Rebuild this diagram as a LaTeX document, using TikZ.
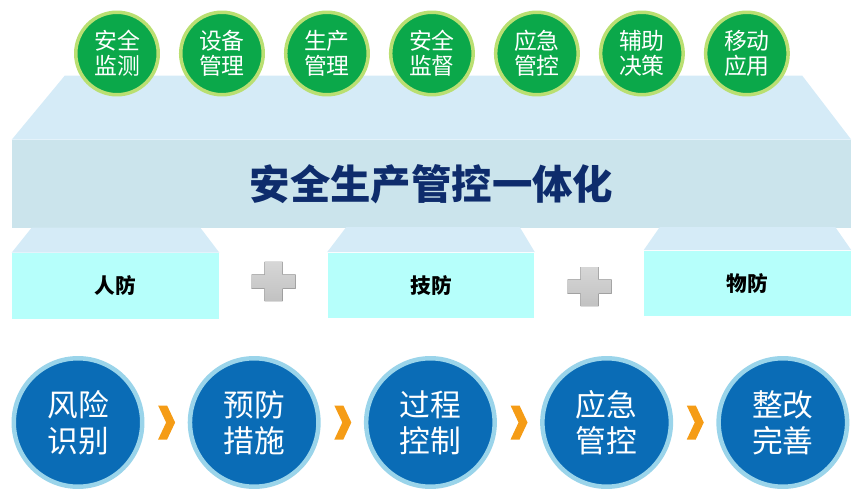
\documentclass[tikz,border=0pt]{standalone}
\usepackage{fontspec}
\setmainfont{Noto Sans CJK SC}
\usepackage{xcolor}
\usepackage{tikz}
\usetikzlibrary{positioning,calc}

\definecolor{ballgreen}{HTML}{0BA84A}
\definecolor{glowgreen}{HTML}{BADF72}
\definecolor{ballblue}{HTML}{0A6CB6}
\definecolor{glowblue}{HTML}{9AD4EA}
\definecolor{topface}{HTML}{D5EBF7}
\definecolor{slabfront}{HTML}{CBE4EC}
\definecolor{pillarfront}{HTML}{B6FFFB}
\definecolor{titlenavy}{HTML}{0E2C6C}
\definecolor{chevorange}{HTML}{F59C16}

\begin{document}
\begin{tikzpicture}[
        x=0.02cm, y=-0.02cm,
        node distance=0.38cm,
        ball/.style={circle,fill=ballgreen,draw=glowgreen,line width=0.07cm,minimum size=1.65cm,inner sep=0pt,align=center,text=white,font=\fontsize{13pt}{14.4pt}\selectfont},
        disc/.style={circle,fill=ballblue,draw=glowblue,line width=0.09cm,minimum size=2.57cm,inner sep=0pt,align=center,text=white,font=\fontsize{17.5pt}{20.6pt}\selectfont},
        slab/.style={rectangle,fill=slabfront,minimum width=16.78cm,minimum height=1.76cm,inner sep=0pt,text=titlenavy,font=\fontsize{23pt}{26pt}\selectfont\bfseries},
        pillar/.style={rectangle,fill=pillarfront,minimum width=4.14cm,minimum height=1.32cm,inner sep=0pt,font=\fontsize{11.8pt}{14pt}\selectfont\bfseries},
        face/.style={fill=topface},
        cross/.style={top color=gray!32,bottom color=gray!48},
        chev/.style={fill=chevorange}
    ]
        \useasboundingbox (0,0) rectangle (863,500);

        % platform
        \node[slab] (core) at (431.5,184) {安全生产管控一体化};
        \fill[face] (core.north west) -- ++(53,-64) -- ($(core.north east)+(-49,-64)$) -- (core.north east) -- cycle;

        % three supports
        \node[pillar] (ren) at (115.5,286) {人防};
        \node[pillar] (ji) at (431,285.5) {技防};
        \node[pillar] (wu) at (747.5,283.5) {物防};
        \fill[face] (ren.north west) -- ++(20,-25) -- ($(ren.north east)+(-19,-25)$) -- (ren.north east) -- cycle;
        \fill[face] (ji.north west) -- ++(19,-25) -- ($(ji.north east)+(-15,-25)$) -- (ji.north east) -- cycle;
        \fill[face] (wu.north west) -- ++(16,-23) -- ($(wu.north east)+(-16,-23)$) -- (wu.north east) -- cycle;

        \fill[cross] (273.5,281.5) ++(-9,-19.5) rectangle ++(18,39) (273.5,281.5) ++(-22,-7) rectangle ++(44,14);
        \fill[cross] (589.5,286.5) ++(-9,-19.5) rectangle ++(18,39) (589.5,286.5) ++(-22,-7) rectangle ++(44,14);

        % modules on top
        \node[ball] (g1) at (117,53.5) {安全\\监测};
        \node[ball,right=of g1] (g2) {设备\\管理};
        \node[ball,right=of g2] (g3) {生产\\管理};
        \node[ball,right=of g3] (g4) {安全\\监督};
        \node[ball,right=of g4] (g5) {应急\\管控};
        \node[ball,right=of g5] (g6) {辅助\\决策};
        \node[ball,right=of g6] (g7) {移动\\应用};

        % process chain
        \node[disc] (b1) at (78,422.5) {风险\\识别};
        \node[disc,right=0.865cm of b1] (b2) {预防\\措施};
        \node[disc,right=0.865cm of b2] (b3) {过程\\控制};
        \node[disc,right=0.865cm of b3] (b4) {应急\\管控};
        \node[disc,right=0.865cm of b4] (b5) {整改\\完善};

        \fill[chev] ($(b1)!0.5!(b2)$) ++(-8,-17) -- ++(9,0) -- ++(8,17) -- ++(-8,17) -- ++(-9,0) -- ++(8,-17) -- cycle;
        \fill[chev] ($(b2)!0.5!(b3)$) ++(-8,-17) -- ++(9,0) -- ++(8,17) -- ++(-8,17) -- ++(-9,0) -- ++(8,-17) -- cycle;
        \fill[chev] ($(b3)!0.5!(b4)$) ++(-8,-17) -- ++(9,0) -- ++(8,17) -- ++(-8,17) -- ++(-9,0) -- ++(8,-17) -- cycle;
        \fill[chev] ($(b4)!0.5!(b5)$) ++(-8,-17) -- ++(9,0) -- ++(8,17) -- ++(-8,17) -- ++(-9,0) -- ++(8,-17) -- cycle;
    \end{tikzpicture}
\end{document}
